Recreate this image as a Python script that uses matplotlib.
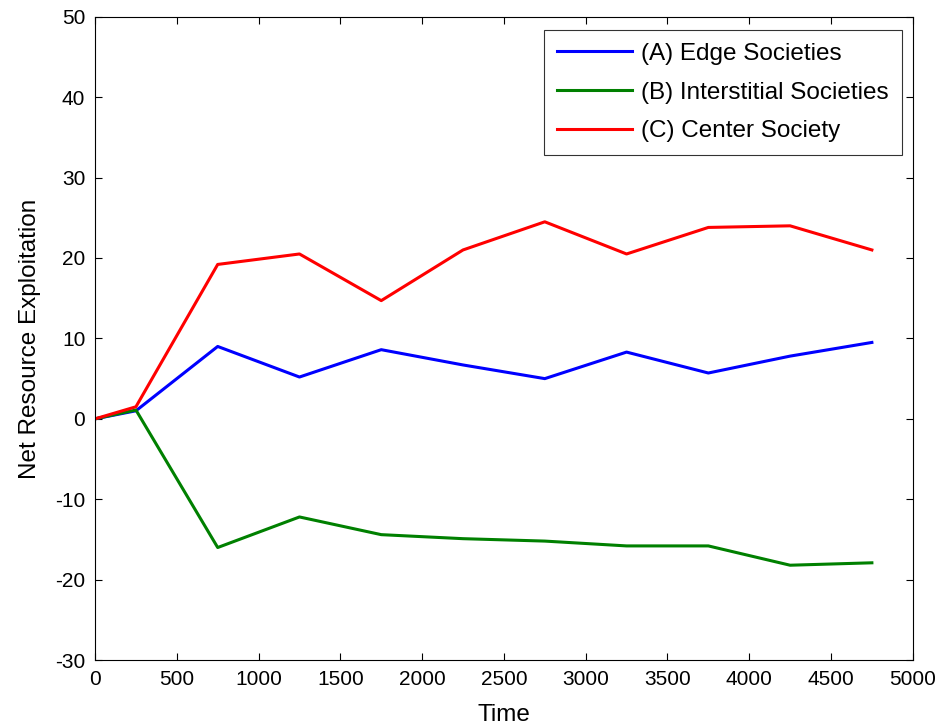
import numpy as np
import matplotlib.pyplot as plt
import matplotlib
matplotlib.rcParams.update({'font.family': ['Liberation Sans', 'DejaVu Sans'], 'font.size': 15,
                            'axes.unicode_minus': False})

# data
time = [0, 250, 750, 1250, 1750, 2250, 2750, 3250, 3750, 4250, 4750]
edge = [0, 1.0, 9.0, 5.2, 8.6, 6.7, 5.0, 8.3, 5.7, 7.8, 9.5]
interstitial = [0, 1.1, -16.0, -12.2, -14.4, -14.9, -15.2, -15.8, -15.8, -18.2, -17.9]
center = [0, 1.5, 19.2, 20.5, 14.7, 21.0, 24.5, 20.5, 23.8, 24.0, 21.0]

fig = plt.figure(figsize=(9.41, 7.27), dpi=100)
ax = fig.add_axes([0.101, 0.092, 0.869, 0.885])

ax.plot(time, edge, color='#0000ff', lw=2.2, label='(A) Edge Societies')
ax.plot(time, interstitial, color='#008000', lw=2.2, label='(B) Interstitial Societies')
ax.plot(time, center, color='#ff0000', lw=2.2, label='(C) Center Society')

ax.set_xlim(0, 5000)
ax.set_ylim(-30, 50)
ax.set_xticks(np.arange(0, 5001, 500))
ax.set_yticks(np.arange(-30, 51, 10))
ax.tick_params(direction='in', top=True, right=True, length=5, width=0.8, pad=7)
for s in ax.spines.values():
    s.set_linewidth(0.8)

ax.set_xlabel('Time', fontsize=17.5, labelpad=11)
ax.set_ylabel('Net Resource Exploitation', fontsize=17.5, labelpad=10)

leg = ax.legend(loc='upper right', fancybox=False, edgecolor='black', fontsize=17.5,
                bbox_to_anchor=(0.9866, 0.98), handlelength=3.1, handletextpad=0.35,
                borderaxespad=0, labelspacing=0.68, borderpad=0.55)
leg.get_frame().set_linewidth(0.8)

fig.savefig('out.png', dpi=100, facecolor='white')
